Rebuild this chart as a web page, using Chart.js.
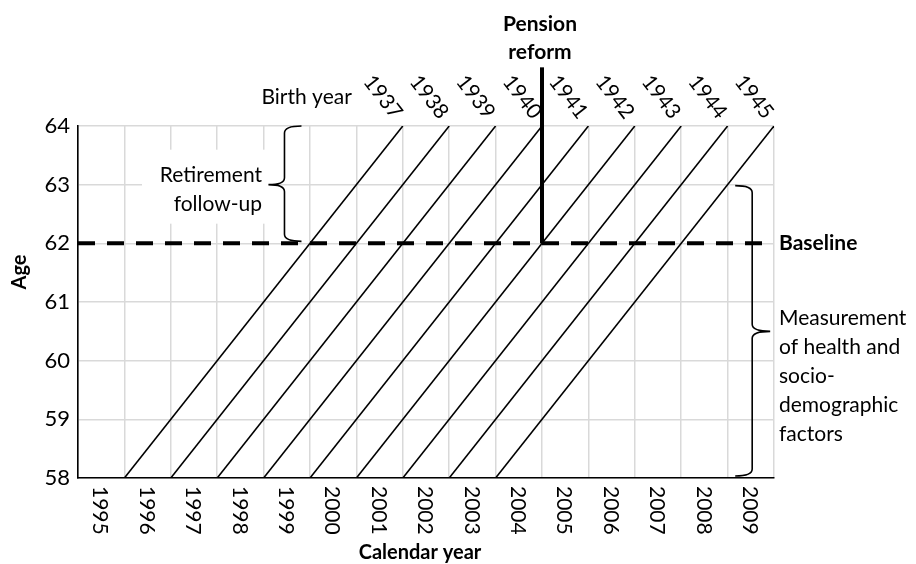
<!DOCTYPE html>
<html>
<head>
<meta charset="utf-8">
<script src="https://cdn.jsdelivr.net/npm/chart.js@4.4.0/dist/chart.umd.min.js"></script>
<style>
    html, body { margin: 0; padding: 0; background: #fff; }
    #wrap { width: 916px; height: 564px; }
</style>
</head>
<body>
<div id="wrap"><canvas id="chart" width="916" height="564"></canvas></div>
<script>
// --- Data ---
const calendarYears = [1995, 1996, 1997, 1998, 1999, 2000, 2001, 2002, 2003, 2004, 2005, 2006, 2007, 2008, 2009];
const birthYears = [1937, 1938, 1939, 1940, 1941, 1942, 1943, 1944, 1945];
const ageTicks = [58, 59, 60, 61, 62, 63, 64];
const cohortAges = [58, 64];        // age at start / end of each cohort line
const baselineAge = 62;
const reformYear = 2005;            // reform at the start of 2005
const reformTopAge = 65;            // the line goes up past the plot to the label
const followUpAges = [62, 64];      // "Retirement follow-up"
const measurementAges = [58, 63];   // "Measurement of health ..."

// --- Style ---
const FONT = 'Lato, "Open Sans", sans-serif';
const GRID = '#d9d9d9';

// a calendar year is centred on its integer value, so its edges sit on .5
const yearEdges = calendarYears.map(y => y - 0.5).concat(calendarYears[calendarYears.length - 1] + 0.5);

// --- Datasets ---
const cohortSets = birthYears.map(b => ({
    data: cohortAges.map(a => ({ x: b + a + 0.5, y: a })),
    borderColor: '#000',
    borderWidth: 1.6
}));

const baselineSet = {
    data: [
        { x: yearEdges[0], y: baselineAge },
        { x: yearEdges[yearEdges.length - 1], y: baselineAge }
    ],
    borderColor: '#000',
    borderWidth: 4,
    borderDash: [17, 12]
};

const reformSet = {
    data: [
        { x: reformYear - 0.5, y: baselineAge },
        { x: reformYear - 0.5, y: reformTopAge }
    ],
    borderColor: '#000',
    borderWidth: 4,
    clip: false
};

// --- Helpers ---
function drawBrace(ctx, x, yTop, yBottom, yMid, endDir, endLen, midLen) {
    // endDir: +1 => ends hook to the right, middle points left
    const r = 7;
    ctx.beginPath();
    ctx.moveTo(x + endDir * endLen, yTop);
    ctx.quadraticCurveTo(x, yTop, x, yTop + r);
    ctx.lineTo(x, yMid - r);
    ctx.quadraticCurveTo(x, yMid, x - endDir * midLen, yMid);
    ctx.quadraticCurveTo(x, yMid, x, yMid + r);
    ctx.lineTo(x, yBottom - r);
    ctx.quadraticCurveTo(x, yBottom, x + endDir * endLen, yBottom);
    ctx.stroke();
}

function text(ctx, str, x, y, align, bold, size) {
    ctx.font = `${bold ? 'bold ' : ''}${size}px ${FONT}`;
    ctx.textAlign = align;
    ctx.textBaseline = 'middle';
    ctx.fillText(str, x, y);
}

// --- Plugin for labels and braces ---
const annotations = {
    id: 'annotations',
    beforeDatasetsDraw(chart) {
        // white box behind the retirement label, covering the grid
        const { ctx } = chart;
        const ys = chart.scales.y;
        const mid = ys.getPixelForValue((followUpAges[0] + followUpAges[1]) / 2);
        ctx.save();
        ctx.fillStyle = '#fff';
        ctx.fillRect(142, mid - 35, 126, 74);
        ctx.restore();
    },
    afterDraw(chart) {
        const { ctx, chartArea: area } = chart;
        const xs = chart.scales.x;
        const ys = chart.scales.y;
        ctx.save();
        ctx.fillStyle = '#000';
        ctx.strokeStyle = '#000';

        // calendar year labels, rotated clockwise
        calendarYears.forEach(yr => {
            ctx.save();
            ctx.translate(xs.getPixelForValue(yr), area.bottom + 8);
            ctx.rotate(Math.PI / 2);
            text(ctx, String(yr), 0, 1, 'left', false, 21);
            ctx.restore();
        });

        // axis titles
        text(ctx, 'Calendar year', xs.getPixelForValue(2002) - 6, 553, 'center', true, 20);
        ctx.save();
        ctx.translate(20, 272);
        ctx.rotate(-Math.PI / 2);
        text(ctx, 'Age', 0, 0, 'center', true, 20);
        ctx.restore();

        // birth year labels above the cohort lines
        const labelY = area.top - 29;
        birthYears.forEach(b => {
            const px = xs.getPixelForValue(b + cohortAges[1] + 0.5);
            ctx.save();
            ctx.translate(px - 20, labelY);
            ctx.rotate(52 * Math.PI / 180);
            text(ctx, String(b), 0, 0, 'center', false, 21);
            ctx.restore();
        });
        text(ctx, 'Birth year', xs.getPixelForValue(birthYears[0] + cohortAges[1] + 0.5) - 51, labelY, 'right', false, 21);

        // pension reform
        const rx = xs.getPixelForValue(reformYear - 0.5) - 2;
        text(ctx, 'Pension', rx, 24, 'center', true, 21);
        text(ctx, 'reform', rx, 52, 'center', true, 21);

        // baseline label
        text(ctx, 'Baseline', area.right + 5, ys.getPixelForValue(baselineAge), 'left', true, 21);

        // retirement follow-up brace
        ctx.lineWidth = 1.6;
        const fTop = ys.getPixelForValue(followUpAges[1]);
        const fBot = ys.getPixelForValue(followUpAges[0]);
        const fMid = (fTop + fBot) / 2;
        drawBrace(ctx, xs.getPixelForValue(1998.95), fTop, fBot - 2, fMid, 1, 17, 16);
        text(ctx, 'Retirement', 262, fMid - 9, 'right', false, 21);
        text(ctx, 'follow-up', 262, fMid + 20, 'right', false, 21);

        // measurement brace
        const mTop = ys.getPixelForValue(measurementAges[1]);
        const mBot = ys.getPixelForValue(measurementAges[0]);
        const mMid = (mTop + mBot) / 2;
        drawBrace(ctx, xs.getPixelForValue(2009.03), mTop + 1, mBot - 2, mMid, -1, 17, 18);
        const mLines = ['Measurement', 'of health and', 'socio-', 'demographic', 'factors'];
        mLines.forEach((l, i) => {
            text(ctx, l, area.right + 5, mMid - 13 + i * 29, 'left', false, 21);
        });

        ctx.restore();
    }
};

// --- Chart ---
new Chart(document.getElementById('chart'), {
    type: 'line',
    data: { datasets: [...cohortSets, baselineSet, reformSet] },
    options: {
        responsive: false,
        animation: false,
        layout: { padding: { top: 126, right: 142, left: 0, bottom: 0 } },
        plugins: {
            legend: { display: false },
            tooltip: { enabled: false }
        },
        elements: {
            point: { radius: 0 },
            line: { tension: 0, borderCapStyle: 'butt' }
        },
        scales: {
            x: {
                type: 'linear',
                min: yearEdges[0],
                max: yearEdges[yearEdges.length - 1],
                afterBuildTicks: s => { s.ticks = yearEdges.map(v => ({ value: v })); },
                afterFit: s => { s.height = 86; },
                ticks: { display: false },
                grid: { color: GRID, lineWidth: 1.5, drawTicks: false },
                border: { color: '#000', width: 1.6 }
            },
            y: {
                min: ageTicks[0],
                max: ageTicks[ageTicks.length - 1],
                afterBuildTicks: s => { s.ticks = ageTicks.map(v => ({ value: v })); },
                afterFit: s => { s.width = 78; },
                ticks: { font: { family: FONT, size: 22 }, color: '#000', padding: 8 },
                grid: { color: GRID, lineWidth: 1.5, drawTicks: false },
                border: { color: '#000', width: 1.6 }
            }
        }
    },
    plugins: [annotations]
});
</script>
</body>
</html>
